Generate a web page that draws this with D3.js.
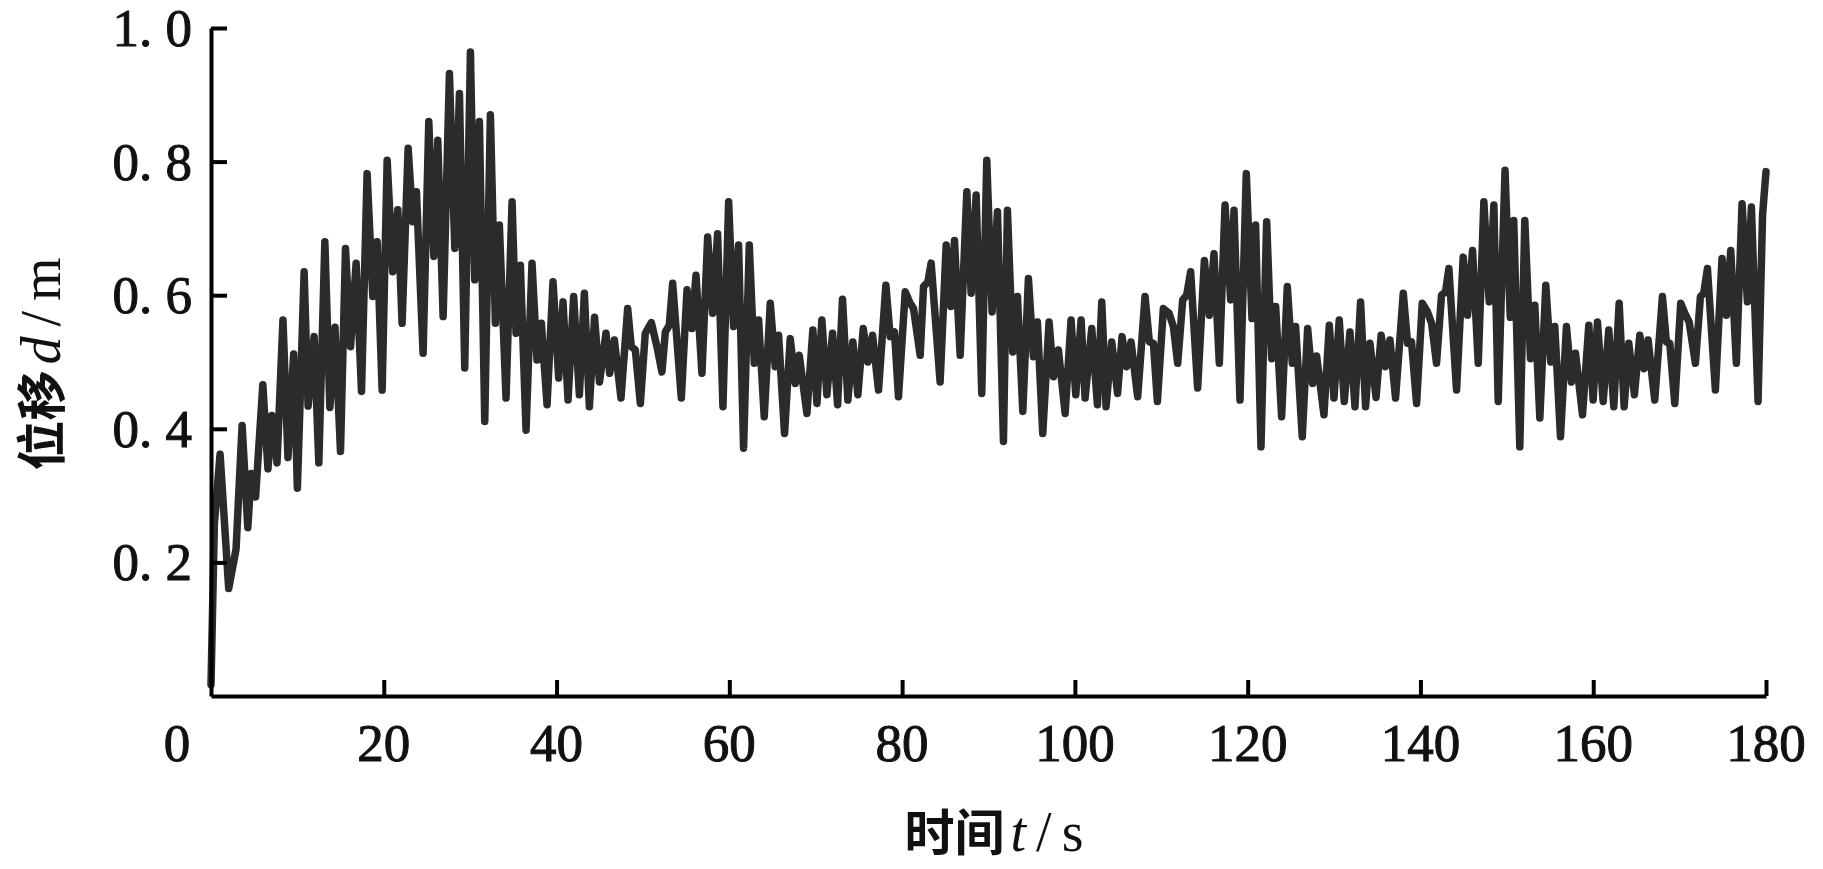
<!DOCTYPE html>
<html>
<head>
<meta charset="utf-8">
<script src="https://cdn.jsdelivr.net/npm/d3@7"></script>
<style>
  html, body { margin: 0; padding: 0; background: #ffffff; }
  svg { display: block; }
</style>
</head>
<body>
<svg id="chart" width="1823" height="869"></svg>
<script>
// ---- data ----
const timeSec = [
  0, 0.39, 1.05, 2.05, 2.9, 3.6, 4.26, 4.65, 5.16, 6.0, 6.59, 7.05, 7.64, 8.33, 8.91, 9.57, 10.0, 10.78, 11.24, 11.94, 12.48, 13.18, 13.76, 14.35,
  14.99, 15.57, 16.15, 16.8, 17.42, 18.07, 18.73, 19.23, 19.81, 20.39, 21.04, 21.62, 22.12, 22.82, 23.36, 23.78, 24.55, 25.21, 25.79, 26.25, 26.87, 27.6, 28.22, 28.76, 29.37, 30.03,
  30.53, 31.07, 31.69, 32.34, 32.92, 33.38, 34.15, 34.85, 35.31, 35.81, 36.47, 37.16, 37.74, 38.24, 38.9, 39.59, 40.25, 40.75, 41.33, 41.98, 42.64, 43.22, 43.8, 44.4, 44.97,
  45.72, 46.15, 46.69, 47.46, 48.23, 48.65, 49.12, 49.7, 50.27, 50.97, 51.62, 52.2, 52.59, 53.05, 53.44, 54.44, 55.1, 55.67, 56.14, 56.83, 57.49, 58.07, 58.64, 59.26, 59.92,
  60.49, 61.07, 61.65, 62.31, 62.89, 63.39, 64.04, 64.74, 65.31, 65.7, 66.39, 67.05, 67.63, 68.09, 68.98, 69.67, 70.14, 70.71, 71.29, 71.95, 72.53, 73.1, 73.72, 74.3, 74.88, 75.5,
  76.04, 76.58, 77.27, 78.12, 78.62, 79.12, 79.58, 80.36, 80.93, 81.32, 82.09, 82.48, 82.98, 83.36, 84.4, 85.1, 85.64, 86.06, 86.72, 87.49, 87.99, 88.57, 89.22, 89.8,
  90.42, 91.04, 91.73, 92.19, 92.81, 93.35, 93.97, 94.62, 95.2, 95.66, 96.28, 97.01, 97.52, 98.09, 98.87, 99.56, 100.1, 100.72, 101.18, 101.95, 102.61, 103.11, 103.61, 104.26, 104.94, 105.46,
  106.0, 106.5, 107.27, 108.12, 108.62, 109.09, 109.55, 110.24, 110.9, 111.4, 111.9, 112.48, 112.94, 113.4, 114.21, 114.99, 115.56, 116.1, 116.72, 117.38, 118.03, 118.42, 119.11, 119.84,
  120.5, 120.92, 121.54, 122.2, 122.78, 123.24, 123.93, 124.59, 125.17, 125.55, 126.32, 126.94, 127.52, 127.98, 128.83, 129.45, 129.99, 130.6, 131.18, 131.84, 132.42, 133.07, 133.65, 134.15, 134.86, 135.45,
  135.96, 136.47, 137.12, 138.01, 138.51, 138.97, 139.55, 140.21, 140.82, 141.29, 141.86, 142.44, 142.91, 143.29, 144.18, 144.95, 145.45, 146.03, 146.69, 147.34, 147.96, 148.5, 149.0, 149.79,
  150.4, 150.8, 151.5, 152.08, 152.74, 153.24, 153.82, 154.51, 155.09, 155.55, 156.21, 156.9, 157.48, 157.95, 158.76, 159.49, 159.99, 160.49, 161.15, 161.8, 162.38, 163.0, 163.58, 164.12, 164.77, 165.39,
  165.89, 166.35, 167.12, 168.01, 168.47, 168.86, 169.44, 170.13, 170.6, 171.1, 171.83, 172.41, 172.79, 173.22, 174.14, 174.91, 175.41, 175.92, 176.57, 177.23, 177.85, 178.31, 179.08, 179.6, 180
];
const displacement = [
  0.017, 0.258, 0.362, 0.161, 0.22, 0.405, 0.252, 0.333, 0.298, 0.466, 0.34, 0.42, 0.349, 0.563, 0.357, 0.512, 0.311, 0.635, 0.434, 0.538, 0.349, 0.68, 0.432, 0.552,
  0.366, 0.670, 0.523, 0.648, 0.456, 0.782, 0.598, 0.680, 0.458, 0.802, 0.635, 0.728, 0.558, 0.820, 0.710, 0.755, 0.513, 0.860, 0.658, 0.832, 0.568, 0.932, 0.670, 0.902, 0.491, 0.964,
  0.623, 0.860, 0.411, 0.870, 0.558, 0.705, 0.446, 0.740, 0.543, 0.645, 0.398, 0.648, 0.503, 0.558, 0.436, 0.620, 0.476, 0.590, 0.443, 0.598, 0.451, 0.603, 0.433, 0.567, 0.470,
  0.543, 0.483, 0.533, 0.446, 0.580, 0.523, 0.518, 0.438, 0.543, 0.559, 0.523, 0.485, 0.545, 0.555, 0.618, 0.446, 0.608, 0.550, 0.630, 0.483, 0.687, 0.573, 0.692, 0.433, 0.740,
  0.553, 0.675, 0.371, 0.675, 0.498, 0.563, 0.418, 0.588, 0.493, 0.540, 0.393, 0.535, 0.468, 0.510, 0.423, 0.548, 0.438, 0.563, 0.451, 0.543, 0.436, 0.594, 0.443, 0.530, 0.451, 0.550,
  0.500, 0.540, 0.458, 0.615, 0.538, 0.545, 0.448, 0.605, 0.588, 0.580, 0.510, 0.613, 0.620, 0.648, 0.470, 0.675, 0.583, 0.682, 0.510, 0.755, 0.603, 0.750, 0.453, 0.802,
  0.575, 0.725, 0.381, 0.727, 0.515, 0.598, 0.426, 0.625, 0.508, 0.560, 0.393, 0.560, 0.478, 0.518, 0.423, 0.563, 0.451, 0.563, 0.446, 0.550, 0.436, 0.590, 0.433, 0.530, 0.453, 0.538,
  0.493, 0.530, 0.448, 0.598, 0.530, 0.528, 0.441, 0.580, 0.573, 0.553, 0.498, 0.593, 0.600, 0.635, 0.461, 0.652, 0.570, 0.662, 0.498, 0.735, 0.593, 0.727, 0.443, 0.782,
  0.565, 0.705, 0.373, 0.710, 0.505, 0.583, 0.418, 0.613, 0.498, 0.553, 0.388, 0.550, 0.468, 0.509, 0.421, 0.555, 0.446, 0.563, 0.441, 0.545, 0.433, 0.590, 0.433, 0.528, 0.447, 0.540,
  0.493, 0.533, 0.446, 0.603, 0.528, 0.530, 0.438, 0.588, 0.575, 0.558, 0.498, 0.600, 0.605, 0.640, 0.458, 0.657, 0.570, 0.667, 0.498, 0.740, 0.590, 0.735, 0.441, 0.787,
  0.567, 0.712, 0.373, 0.712, 0.505, 0.585, 0.416, 0.615, 0.500, 0.553, 0.388, 0.553, 0.470, 0.513, 0.421, 0.555, 0.443, 0.560, 0.441, 0.548, 0.433, 0.588, 0.433, 0.528, 0.451, 0.540,
  0.490, 0.533, 0.443, 0.598, 0.530, 0.528, 0.438, 0.588, 0.573, 0.560, 0.498, 0.598, 0.603, 0.640, 0.458, 0.655, 0.570, 0.667, 0.498, 0.737, 0.590, 0.732, 0.441, 0.720, 0.785
];
const xTickValues = [0, 20, 40, 60, 80, 100, 120, 140, 160, 180];
const xTickLabels = ["0", "20", "40", "60", "80", "100", "120", "140", "160", "180"];
const yTickValues = [0.2, 0.4, 0.6, 0.8, 1.0];
const yTickLabels = ["0. 2", "0. 4", "0. 6", "0. 8", "1. 0"];
const xTitle = ["时间", "t", "/", "s"];
const yTitle = ["位移", "d", "/", "m"];

// ---- layout ----
const svg = d3.select("#chart");
svg.append("rect").attr("width", 1823).attr("height", 869).attr("fill", "#ffffff");

const x = d3.scaleLinear().domain([0, 180]).range([211, 1766]);
const y = d3.scaleLinear().domain([0, 1]).range([696, 28]);

const serif = "'Liberation Serif', 'DejaVu Serif', serif";
const cjk = "'Noto Sans CJK SC', sans-serif";

// series line
const points = timeSec.map((t, i) => ({ t: t, v: displacement[i] }));
const line = d3.line().x(d => x(d.t)).y(d => y(d.v));
svg.append("path")
  .datum(points)
  .attr("d", line)
  .attr("fill", "none")
  .attr("stroke", "#2b2b2b")
  .attr("stroke-width", 7.5)
  .attr("stroke-linejoin", "round")
  .attr("stroke-linecap", "round");

// x axis
const xAxis = d3.axisBottom(x)
  .tickValues(xTickValues.filter(v => v > 0))
  .tickSizeInner(-16)
  .tickSizeOuter(0)
  .tickFormat(() => "");
const gx = svg.append("g").attr("transform", "translate(0,696)").call(xAxis);
gx.select(".domain").attr("stroke", "#000").attr("stroke-width", 4);
gx.selectAll(".tick line").attr("stroke", "#000").attr("stroke-width", 4);

svg.append("g").selectAll("text")
  .data(xTickValues)
  .join("text")
  .attr("x", (d, i) => d === 0 ? x(d) - 34 : x(d))
  .attr("y", 761)
  .attr("text-anchor", "middle")
  .attr("font-family", serif)
  .attr("font-size", 53)
  .attr("fill", "#111")
  .attr("stroke", "#111")
  .attr("stroke-width", 1)
  .text((d, i) => xTickLabels[i]);

// y axis
const yAxis = d3.axisLeft(y)
  .tickValues(yTickValues)
  .tickSizeInner(-16)
  .tickSizeOuter(0)
  .tickFormat(() => "");
const gy = svg.append("g").attr("transform", "translate(211,0)").call(yAxis);
gy.select(".domain").attr("stroke", "#000").attr("stroke-width", 4);
gy.selectAll(".tick line").attr("stroke", "#000").attr("stroke-width", 4);

svg.append("g").selectAll("text")
  .data(yTickValues)
  .join("text")
  .attr("x", 192)
  .attr("y", d => y(d))
  .attr("dy", "0.34em")
  .attr("text-anchor", "end")
  .attr("font-family", serif)
  .attr("font-size", 53)
  .attr("fill", "#111")
  .attr("stroke", "#111")
  .attr("stroke-width", 1)
  .style("white-space", "pre")
  .text((d, i) => yTickLabels[i]);

// axis titles
function title(g, parts) {
  const t = g.append("text")
    .attr("text-anchor", "middle")
    .attr("fill", "#111");
  t.append("tspan").attr("font-family", cjk).attr("font-weight", 700).attr("font-size", 50).text(parts[0]);
  t.append("tspan").attr("font-family", serif).attr("font-style", "italic").attr("font-size", 56).attr("dx", 6).text(parts[1]);
  t.append("tspan").attr("font-family", serif).attr("font-size", 56).attr("dx", 10).text(parts[2]);
  t.append("tspan").attr("font-family", serif).attr("font-size", 56).attr("dx", 10).text(parts[3]);
  return t;
}
const xt = svg.append("g").attr("transform", "translate(994,851)");
title(xt, xTitle);
const yt = svg.append("g").attr("transform", "translate(60,364) rotate(-90)");
title(yt, yTitle);
</script>
</body>
</html>
